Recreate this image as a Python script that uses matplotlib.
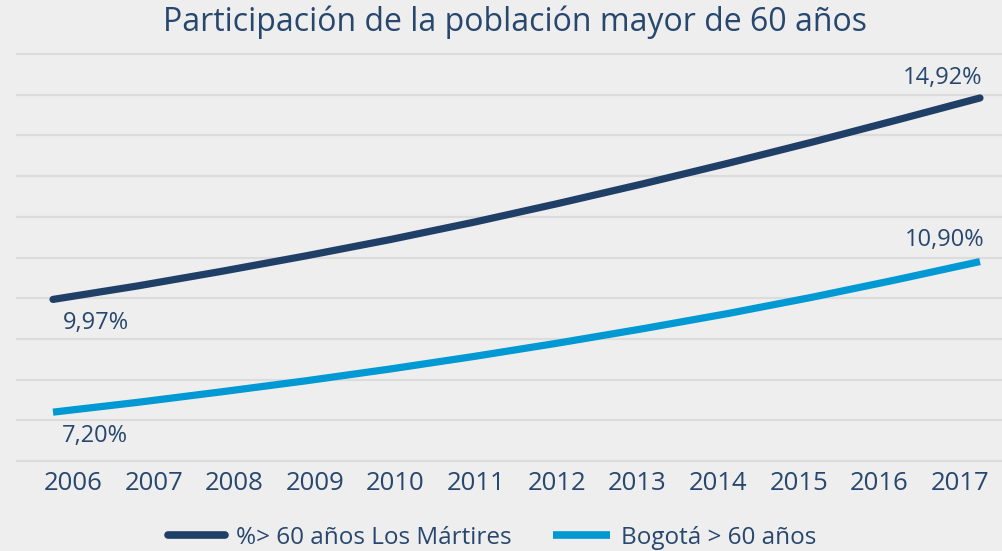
import matplotlib
matplotlib.use("Agg")
import matplotlib.pyplot as plt
from matplotlib.lines import Line2D

years = [2006, 2007, 2008, 2009, 2010, 2011, 2012, 2013, 2014, 2015, 2016, 2017]
martires = [9.97, 10.30, 10.66, 11.04, 11.44, 11.87, 12.33, 12.81, 13.31, 13.83, 14.37, 14.92]
bogota = [7.20, 7.44, 7.70, 7.97, 8.26, 8.57, 8.90, 9.25, 9.62, 10.02, 10.45, 10.90]
series_names = ["%> 60 años Los Mártires", "Bogotá > 60 años"]
title = "Participación de la población mayor de 60 años"

DARK = "#1f3f66"
BLUE = "#0099d3"
TEXT = "#27476e"
BG = "#eeeeee"
GRID = "#dcdcdc"

plt.rcParams['font.family'] = ['Open Sans', 'DejaVu Sans']

W, H = 1002, 551
fig = plt.figure(figsize=(W / 100, H / 100), dpi=100, facecolor=BG)

top_px, bot_px = 40, 470
ax = fig.add_axes([16 / W, 1 - bot_px / H, 1 - 16 / W, (bot_px - top_px) / H])
ax.set_facecolor(BG)
ppu = 40.7
ax.set_ylim(6 - (bot_px - 461) / ppu, 16 + (54 - top_px) / ppu)
ax.set_yticks(range(6, 17))
ax.yaxis.grid(True, color=GRID, linewidth=1.6)
ax.set_axisbelow(True)
ax.tick_params(axis='y', left=False, labelleft=False)
for s in ax.spines.values():
    s.set_visible(False)

step = 80.64
ax.set_xlim((16 - 73) / step, (1002 - 73) / step)
ax.set_xticks(range(len(years)))
ax.set_xticklabels([str(y) for y in years], fontsize=18.5, color=TEXT)
ax.tick_params(axis='x', length=0, pad=1)

ax2 = ax.twiny()
ax2.set_facecolor('none')
lstep = 84.27
ax2.set_xlim(years[0] + (16 - 53) / lstep, years[0] + (1002 - 53) / lstep)
ax2.set_ylim(ax.get_ylim())
ax2.tick_params(axis='x', top=False, labeltop=False)
for s in ax2.spines.values():
    s.set_visible(False)

ax2.plot(years, martires, color=DARK, linewidth=5.2, solid_capstyle='round', solid_joinstyle='round')
ax2.plot(years, bogota, color=BLUE, linewidth=5.2, solid_capstyle='butt', solid_joinstyle='round')

lab_kw = dict(textcoords='offset pixels', fontsize=17, color=TEXT, va='center')
ax2.annotate(f"{martires[0]:.2f}%".replace('.', ','), (years[0], martires[0]), xytext=(10, -24), ha='left', **lab_kw)
ax2.annotate(f"{bogota[0]:.2f}%".replace('.', ','), (years[0], bogota[0]), xytext=(9, -24), ha='left', **lab_kw)
ax2.annotate(f"{martires[-1]:.2f}%".replace('.', ','), (years[-1], martires[-1]), xytext=(2, 20), ha='right', **lab_kw)
ax2.annotate(f"{bogota[-1]:.2f}%".replace('.', ','), (years[-1], bogota[-1]), xytext=(4, 22), ha='right', **lab_kw)

fig.text(515 / W, 1 - 22 / H, title, ha='center', va='center', fontsize=23, color=TEXT)

handles = [Line2D([], [], color=DARK, linewidth=5.5, solid_capstyle='round'),
           Line2D([], [], color=BLUE, linewidth=5.5, solid_capstyle='butt')]
fig.legend(handles, series_names, loc='center', bbox_to_anchor=(492 / W, 1 - 538 / H), ncol=2,
           frameon=False, fontsize=17.5, labelcolor=TEXT, handlelength=2.35, columnspacing=1.7,
           handletextpad=0.45)

fig.savefig("out.png", dpi=100, facecolor=BG)
